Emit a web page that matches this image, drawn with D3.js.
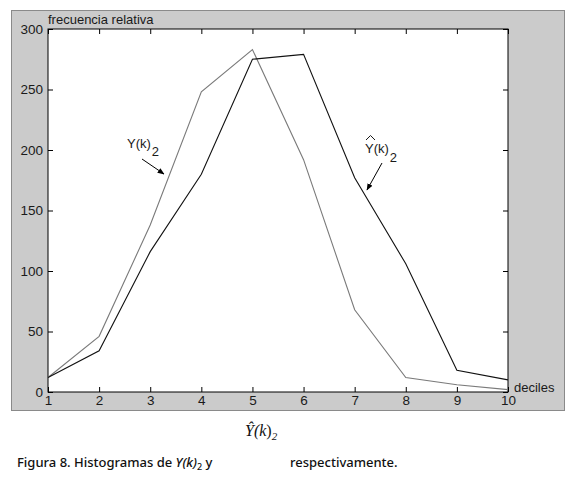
<!DOCTYPE html>
<html>
<head>
<meta charset="utf-8">
<script src="https://cdn.jsdelivr.net/npm/d3@7"></script>
<style>
  body { margin: 0; background: #fff; }
  svg { display: block; }
</style>
</head>
<body>
<div id="chart"></div>
<script>
// data
let deciles = [1, 2, 3, 4, 5, 6, 7, 8, 9, 10];
let yk = [12, 46, 138, 248, 283, 192, 68, 12, 6, 2];
let yhat = [12, 34, 116, 180, 275, 279, 177, 106, 18, 10];
let yTicks = [0, 50, 100, 150, 200, 250, 300];

function drawChart() {
  let W = 575, H = 487;
  let svg = d3.select("#chart").append("svg").attr("width", W).attr("height", H);

  // grey figure panel
  svg.append("rect")
    .attr("x", 11.5).attr("y", 10.5).attr("width", 553).attr("height", 400)
    .attr("fill", "#cbcbcb").attr("stroke", "#8a8a8a");

  let x = d3.scaleLinear().domain([1, 10]).range([48, 508]);
  let y = d3.scaleLinear().domain([0, 300]).range([392, 29]);

  // axes box
  svg.append("rect")
    .attr("x", x(1)).attr("y", y(300))
    .attr("width", x(10) - x(1)).attr("height", y(0) - y(300))
    .attr("fill", "#fff").attr("stroke", "#000");

  let font = "'Liberation Sans', Arial, sans-serif";

  // ticks pointing inward, matlab style
  svg.append("g").attr("transform", "translate(0," + y(0) + ")")
    .call(d3.axisBottom(x).tickValues(deciles).tickFormat(d3.format("d")).tickSize(-5).tickPadding(3));
  svg.append("g").attr("transform", "translate(" + x(1) + ",0)")
    .call(d3.axisLeft(y).tickValues(yTicks).tickSize(-5).tickPadding(5));
  svg.append("g").attr("transform", "translate(0," + y(300) + ")")
    .call(d3.axisTop(x).tickValues(deciles).tickFormat("").tickSize(-5));
  svg.append("g").attr("transform", "translate(" + x(10) + ",0)")
    .call(d3.axisRight(y).tickValues(yTicks).tickFormat("").tickSize(-5));

  svg.selectAll(".domain").remove();
  svg.selectAll(".tick line").attr("stroke", "#000");
  svg.selectAll(".tick text").style("font-family", font).style("font-size", "13.5px").attr("fill", "#1a1a1a");

  // axis labels
  svg.append("text").attr("x", x(1)).attr("y", 24)
    .style("font-family", font).style("font-size", "13px").attr("fill", "#1a1a1a")
    .text("frecuencia relativa");
  svg.append("text").attr("x", 514).attr("y", 392)
    .style("font-family", font).style("font-size", "13px").attr("fill", "#1a1a1a")
    .text("deciles");

  let line = d3.line().x((d, i) => x(deciles[i])).y(d => y(d));

  svg.append("path").datum(yk)
    .attr("d", line).attr("fill", "none").attr("stroke", "#7a7a7a").attr("stroke-width", 1.1);
  svg.append("path").datum(yhat)
    .attr("d", line).attr("fill", "none").attr("stroke", "#111").attr("stroke-width", 1.1);

  // annotations
  let defs = svg.append("defs");
  defs.append("marker").attr("id", "arrow")
    .attr("viewBox", "0 0 10 10").attr("refX", 9).attr("refY", 5)
    .attr("markerWidth", 7).attr("markerHeight", 7).attr("orient", "auto")
    .append("path").attr("d", "M0,1 L10,5 L0,9 z").attr("fill", "#000");

  let ann = svg.append("g").style("font-family", font).attr("fill", "#1a1a1a");
  let t1 = ann.append("text").attr("x", 127).attr("y", 148).style("font-size", "13px");
  t1.append("tspan").text("Y(k)");
  t1.append("tspan").attr("dy", 8).attr("dx", 1).text("2");
  ann.append("line").attr("x1", 142).attr("y1", 159).attr("x2", 164).attr("y2", 174)
    .attr("stroke", "#000").attr("marker-end", "url(#arrow)");

  let t2 = ann.append("text").attr("x", 365).attr("y", 153).style("font-size", "13px");
  t2.append("tspan").text("Y(k)");
  t2.append("tspan").attr("dy", 9).attr("dx", 1).text("2");
  ann.append("path").attr("d", "M366,140 L370.5,135.5 L375,140")
    .attr("fill", "none").attr("stroke", "#1a1a1a");
  ann.append("line").attr("x1", 382).attr("y1", 163).attr("x2", 367).attr("y2", 190)
    .attr("stroke", "#000").attr("marker-end", "url(#arrow)");

  // caption
  let capFont = "'Noto Sans', Lato, sans-serif";
  let cap = svg.append("text").attr("x", 17).attr("y", 467)
    .style("font-family", capFont).style("font-size", "13px").style("font-weight", 500).attr("fill", "#111");
  cap.append("tspan").text("Figura 8. Histogramas de ");
  cap.append("tspan").style("font-style", "italic").text("Y(k)");
  cap.append("tspan").attr("dy", 3).style("font-size", "9px").text("2");
  cap.append("tspan").attr("dy", -3).text(" y");

  let m = svg.append("text").attr("x", 245).attr("y", 436)
    .style("font-family", "'Liberation Serif', 'DejaVu Serif', serif").style("font-size", "16px").attr("fill", "#111");
  m.append("tspan").style("font-style", "italic").text("Ŷ(");
  m.append("tspan").style("font-style", "italic").text("k");
  m.append("tspan").text(")");
  m.append("tspan").attr("dy", 4).style("font-size", "11px").style("font-style", "italic").text("2");

  svg.append("text").attr("x", 290).attr("y", 467)
    .style("font-family", capFont).style("font-size", "13px").style("font-weight", 500).attr("fill", "#111")
    .text("respectivamente.");
}
drawChart();
</script>
</body>
</html>
